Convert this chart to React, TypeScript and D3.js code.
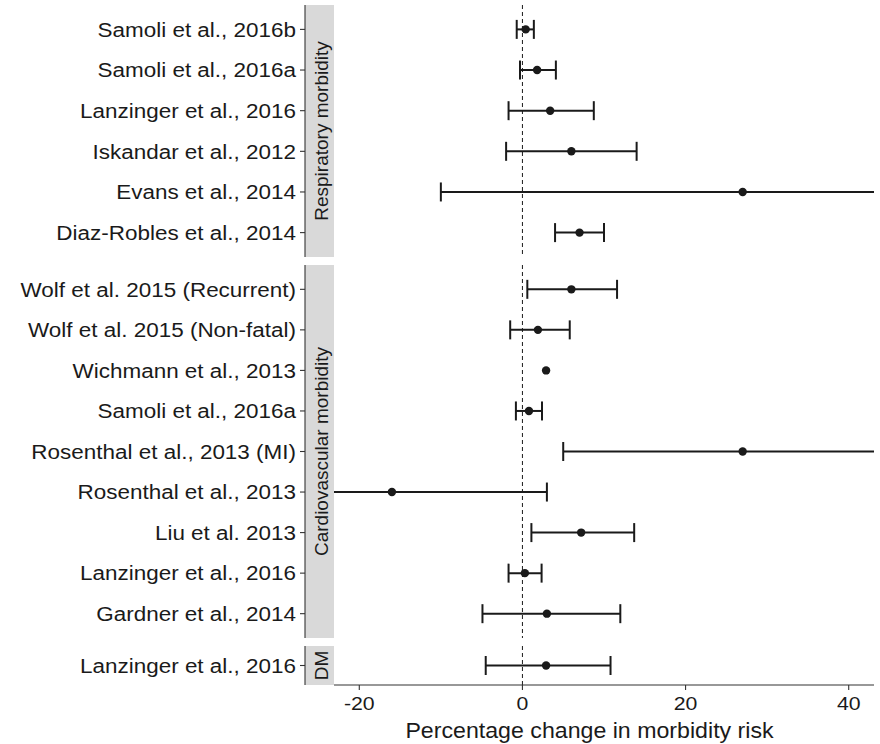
import React from 'react';
import * as d3 from 'd3';

// facet groups, top to bottom
const groups = ["Respiratory morbidity", "Cardiovascular morbidity", "DM"];

const studies = [
    "Samoli et al., 2016b", "Samoli et al., 2016a", "Lanzinger et al., 2016",
    "Iskandar et al., 2012", "Evans et al., 2014", "Diaz-Robles et al., 2014",
    "Wolf et al. 2015 (Recurrent)", "Wolf et al. 2015 (Non-fatal)", "Wichmann et al., 2013",
    "Samoli et al., 2016a", "Rosenthal et al., 2013 (MI)", "Rosenthal et al., 2013",
    "Liu et al. 2013", "Lanzinger et al., 2016", "Gardner et al., 2014",
    "Lanzinger et al., 2016"
];
const studyGroup = [0, 0, 0, 0, 0, 0, 1, 1, 1, 1, 1, 1, 1, 1, 1, 2];
const estimate = [0.4, 1.8, 3.4, 6.0, 27.0, 7.0, 6.0, 1.9, 2.9, 0.8, 27.0, -16.0, 7.2, 0.3, 3.0, 2.9];
const lowerCI = [-0.7, -0.3, -1.7, -2.0, -10.0, 4.0, 0.6, -1.5, null, -0.8, 5.0, -35.0, 1.1, -1.7, -4.9, -4.5];
const upperCI = [1.4, 4.1, 8.75, 14.0, 64.0, 10.0, 11.6, 5.8, null, 2.4, 49.0, 3.0, 13.7, 2.35, 12.0, 10.8];

const xTicks = [-20, 0, 20, 40];
const xDomain = [-23.1, 43.1];

const W = 880;
const H = 744;
const axisX = 305;
const stripW = 29;
const panelLeft = axisX + stripW;
const panelRight = 874;
const panelTop = [5, 265, 646];
const panelBottom = [257, 638, 685];
const font = "'Liberation Sans', Arial, sans-serif";
const ink = "#1a1a1a";

// text that is a little wider than the font draws it
const Wide = ({ x, y, sx, size, anchor, children }) => (
    <text transform={`translate(${x},${y}) scale(${sx},1)`} textAnchor={anchor} fontSize={size} fill={ink}>
        {children}
    </text>
);

const App = () => {
    const x = d3.scaleLinear().domain(xDomain).range([panelLeft, panelRight]);

    const yScales = groups.map((g, gi) => {
        const rows = studies.map((s, i) => i).filter(i => studyGroup[i] === gi);
        return d3.scalePoint<number>()
            .domain(rows)
            .range([panelTop[gi], panelBottom[gi]])
            .padding(0.6);
    });

    const capH = 9.5;

    return (
        <svg width={W} height={H} style={{ position: 'absolute', left: 0, top: 0, background: '#fff' }}
            fontFamily={font}>
            <defs>
                {groups.map((g, gi) => (
                    <clipPath id={`clip${gi}`} key={gi}>
                        <rect x={panelLeft} y={panelTop[gi]} width={panelRight - panelLeft}
                            height={panelBottom[gi] - panelTop[gi]} />
                    </clipPath>
                ))}
            </defs>

            {groups.map((g, gi) => {
                const y = yScales[gi];
                const top = panelTop[gi];
                const bottom = panelBottom[gi];
                const rows = y.domain();
                return (
                    <g key={gi}>
                        {/* strip */}
                        <rect x={axisX} y={top} width={stripW} height={bottom - top} fill="#d9d9d9" />
                        <text transform={`translate(${axisX + 22.5},${(top + bottom) / 2}) rotate(-90)`}
                            textAnchor="middle" fontSize={19} fill={ink}>{g}</text>

                        {/* y axis */}
                        <line x1={axisX} x2={axisX} y1={top} y2={bottom} stroke="#333" strokeWidth={1.1} />
                        {rows.map(i => (
                            <g key={i}>
                                <line x1={axisX - 5} x2={axisX} y1={y(i)} y2={y(i)} stroke="#333" strokeWidth={1.1} />
                                <Wide x={axisX - 9} y={(y(i) as number) + 7.3} sx={1.07} size={21} anchor="end">
                                    {studies[i]}
                                </Wide>
                            </g>
                        ))}

                        {/* zero reference */}
                        <line x1={x(0)} x2={x(0)} y1={top} y2={bottom} stroke={ink} strokeWidth={1}
                            strokeDasharray="4,3" />

                        {/* estimates with intervals */}
                        <g clipPath={`url(#clip${gi})`}>
                            {rows.map(i => {
                                const yy = y(i) as number;
                                const lo = lowerCI[i];
                                const hi = upperCI[i];
                                return (
                                    <g key={i}>
                                        {lo !== null && hi !== null && (
                                            <g stroke={ink} strokeWidth={2}>
                                                <line x1={x(lo)} x2={x(hi)} y1={yy} y2={yy} />
                                                <line x1={x(lo)} x2={x(lo)} y1={yy - capH} y2={yy + capH} />
                                                <line x1={x(hi)} x2={x(hi)} y1={yy - capH} y2={yy + capH} />
                                            </g>
                                        )}
                                        <circle cx={x(estimate[i])} cy={yy} r={4.2} fill={ink} />
                                    </g>
                                );
                            })}
                        </g>
                    </g>
                );
            })}

            {/* x axis */}
            <line x1={panelLeft} x2={panelRight} y1={685} y2={685} stroke="#333" strokeWidth={1.1} />
            {xTicks.map(t => (
                <g key={t}>
                    <line x1={x(t)} x2={x(t)} y1={685} y2={690} stroke="#333" strokeWidth={1.1} />
                    <Wide x={x(t)} y={709.5} sx={1.12} size={19} anchor="middle">{t}</Wide>
                </g>
            ))}
            <Wide x={(axisX + panelRight) / 2} y={738} sx={1.03} size={22.5} anchor="middle">
                Percentage change in morbidity risk
            </Wide>
        </svg>
    );
};

export default App;
